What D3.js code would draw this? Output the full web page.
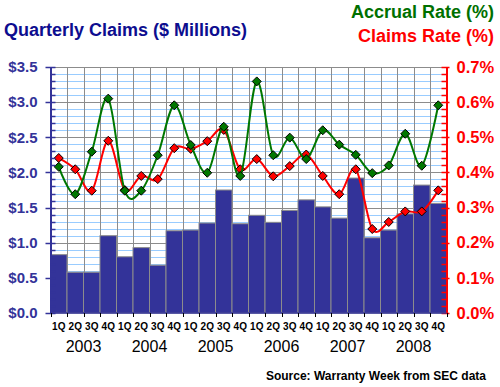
<!DOCTYPE html>
<html>
<head>
<meta charset="utf-8">
<script src="https://cdn.jsdelivr.net/npm/d3@7"></script>
<style>
  body { margin: 0; background: #fff; }
  text { font-family: "Liberation Sans", Arial, sans-serif; }
</style>
</head>
<body>
<script>
var years = ["2003", "2004", "2005", "2006", "2007", "2008"];
var quarters = ["1Q", "2Q", "3Q", "4Q"];
var leftTicks = [0, 0.5, 1, 1.5, 2, 2.5, 3, 3.5];
var rightTicks = [0, 0.1, 0.2, 0.3, 0.4, 0.5, 0.6, 0.7];

// quarterly claims, $ millions
var claims = [0.83, 0.58, 0.58, 1.10, 0.80, 0.93, 0.68, 1.17,
              1.18, 1.28, 1.75, 1.27, 1.39, 1.29, 1.46, 1.61,
              1.51, 1.35, 1.92, 1.07, 1.18, 1.41, 1.82, 1.56];
// accrual rate, %
var accrual = [0.416, 0.338, 0.459, 0.610, 0.348, 0.348, 0.449, 0.591,
               0.478, 0.399, 0.530, 0.390, 0.659, 0.449, 0.499, 0.438,
               0.520, 0.479, 0.450, 0.398, 0.420, 0.510, 0.419, 0.591];
// claims rate, %
var claimsRate = [0.441, 0.409, 0.348, 0.490, 0.350, 0.390, 0.381, 0.469,
                  0.467, 0.489, 0.521, 0.409, 0.438, 0.389, 0.418, 0.451,
                  0.390, 0.338, 0.409, 0.239, 0.259, 0.289, 0.289, 0.349];

var width = 500, height = 387;
var pLeft = 50.5, pRight = 446.5, pTop = 67, pBottom = 313;

var svg = d3.select('body').append('svg').attr('width', width).attr('height', height);
svg.append('rect').attr('width', width).attr('height', height).attr('fill', '#fff');

var idx = d3.range(claims.length);
var x = d3.scaleBand().domain(idx).range([pLeft, pRight]).padding(0);
var y = d3.scaleLinear().domain([0, 3.5]).range([pBottom, pTop]);
var y2 = d3.scaleLinear().domain([0, 0.7]).range([pBottom, pTop]);

// grid
var grid = svg.append('g');
grid.selectAll('.minor').data(d3.range(1, 35).filter(function (i) { return i % 5 != 0; }))
    .enter().append('line')
    .attr('x1', pLeft).attr('x2', pRight)
    .attr('y1', function (i) { return Math.round(y(i / 10)) + 0.5; })
    .attr('y2', function (i) { return Math.round(y(i / 10)) + 0.5; })
    .attr('stroke', '#99ccff').attr('stroke-width', 1);
grid.selectAll('.major').data(leftTicks.slice(1))
    .enter().append('line')
    .attr('x1', pLeft).attr('x2', pRight)
    .attr('y1', function (d) { return Math.round(y(d)) + 0.5; })
    .attr('y2', function (d) { return Math.round(y(d)) + 0.5; })
    .attr('stroke', '#8c8c8c').attr('stroke-width', 1);
grid.selectAll('.vert').data(idx.slice(1))
    .enter().append('line')
    .attr('x1', function (i) { return Math.round(x(i)) + 0.5; })
    .attr('x2', function (i) { return Math.round(x(i)) + 0.5; })
    .attr('y1', pTop).attr('y2', pBottom)
    .attr('stroke', '#8c8c8c').attr('stroke-width', 1);

// bars
svg.append('g').selectAll('rect').data(claims)
    .enter().append('rect')
    .attr('x', function (d, i) { return x(i); })
    .attr('width', x.bandwidth())
    .attr('y', function (d) { return y(d); })
    .attr('height', function (d) { return pBottom - y(d); })
    .attr('fill', '#333399')
    .attr('stroke', '#8c8c8c').attr('stroke-width', 1);

// lines
var cx = function (i) { return x(i) + x.bandwidth() / 2; };
function diamond(r) {
    return 'M0,' + (-r) + 'L' + r + ',0L0,' + r + 'L' + (-r) + ',0Z';
}
function series(data, color) {
    var line = d3.line()
        .x(function (d, i) { return cx(i); })
        .y(function (d) { return y2(d); })
        .curve(d3.curveCardinal.tension(0));
    svg.append('path').datum(data)
        .attr('d', line)
        .attr('fill', 'none')
        .attr('stroke', color).attr('stroke-width', 2);
    svg.append('g').selectAll('path').data(data)
        .enter().append('path')
        .attr('transform', function (d, i) { return 'translate(' + cx(i) + ',' + y2(d) + ')'; })
        .attr('d', diamond(4.5))
        .attr('fill', color)
        .attr('stroke', '#000').attr('stroke-width', 1);
}
series(claimsRate, '#ff0000');
series(accrual, '#007700');

// left axis
var yAxis = d3.axisLeft(y).tickValues(leftTicks).tickSize(0)
    .tickFormat(function (d) { return '$' + d3.format('.1f')(d); });
var ga = svg.append('g').attr('transform', 'translate(' + pLeft + ',0)').call(yAxis);
ga.select('.domain').attr('stroke', '#333399').attr('stroke-width', 2);
ga.selectAll('text').attr('x', -13).attr('fill', '#333399')
    .style('font-size', '15px').style('font-weight', 'bold').style('font-family', '"Liberation Sans", Arial, sans-serif');
ga.selectAll('.mt').data(d3.range(0, 36))
    .enter().append('line')
    .attr('x1', function (i) { return i % 5 == 0 ? -5 : 0; }).attr('x2', 5)
    .attr('y1', function (i) { return Math.round(y(i / 10)) + 0.5; })
    .attr('y2', function (i) { return Math.round(y(i / 10)) + 0.5; })
    .attr('stroke', '#333399').attr('stroke-width', 1.5);

// right axis
var y2Axis = d3.axisRight(y2).tickValues(rightTicks).tickSize(0)
    .tickFormat(function (d) { return d3.format('.1f')(d) + '%'; });
var gb = svg.append('g').attr('transform', 'translate(' + pRight + ',0)').call(y2Axis);
gb.select('.domain').attr('stroke', '#ff0000').attr('stroke-width', 2);
gb.selectAll('text').attr('x', 10).attr('fill', '#ff0000')
    .style('font-size', '16.5px').style('font-weight', 'bold').style('font-family', '"Liberation Sans", Arial, sans-serif');
gb.selectAll('.mt').data(d3.range(0, 36))
    .enter().append('line')
    .attr('x1', -5).attr('x2', function (i) { return i % 5 == 0 ? 3 : 0; })
    .attr('y1', function (i) { return Math.round(y2(i / 50)) + 0.5; })
    .attr('y2', function (i) { return Math.round(y2(i / 50)) + 0.5; })
    .attr('stroke', '#ff0000').attr('stroke-width', 1.5);

// bottom axis
var gx = svg.append('g');
gx.append('line').attr('x1', pLeft).attr('x2', pRight).attr('y1', pBottom).attr('y2', pBottom)
    .attr('stroke', '#333399').attr('stroke-width', 1.5);
gx.selectAll('.tk').data(d3.range(0, claims.length + 1))
    .enter().append('line')
    .attr('x1', function (i) { return Math.round(pLeft + i * x.step()) + 0.5; })
    .attr('x2', function (i) { return Math.round(pLeft + i * x.step()) + 0.5; })
    .attr('y1', pBottom).attr('y2', pBottom + 4)
    .attr('stroke', '#000').attr('stroke-width', 1);
gx.selectAll('.ql').data(idx)
    .enter().append('text')
    .attr('x', cx).attr('y', 330)
    .attr('text-anchor', 'middle')
    .style('font-size', '10px').style('font-weight', 'bold')
    .text(function (i) { return quarters[i % 4]; });
gx.selectAll('.yl').data(years)
    .enter().append('text')
    .attr('x', function (d, j) { return pLeft + (j * 4 + 2) * x.step(); })
    .attr('y', 352)
    .attr('text-anchor', 'middle')
    .style('font-size', '16px')
    .text(function (d) { return d; });

// titles
svg.append('text').attr('x', 4).attr('y', 36)
    .style('font-size', '18px').style('font-weight', 'bold').attr('fill', '#0d0d8f')
    .text('Quarterly Claims ($ Millions)');
svg.append('text').attr('x', 494).attr('y', 18).attr('text-anchor', 'end')
    .style('font-size', '18px').style('font-weight', 'bold').attr('fill', '#007000')
    .text('Accrual Rate (%)');
svg.append('text').attr('x', 494).attr('y', 42).attr('text-anchor', 'end')
    .style('font-size', '18px').style('font-weight', 'bold').attr('fill', '#ff0000')
    .text('Claims Rate (%)');
svg.append('text').attr('x', 486).attr('y', 380).attr('text-anchor', 'end')
    .style('font-size', '12px').style('font-weight', 'bold')
    .text('Source: Warranty Week from SEC data');
</script>
</body>
</html>
